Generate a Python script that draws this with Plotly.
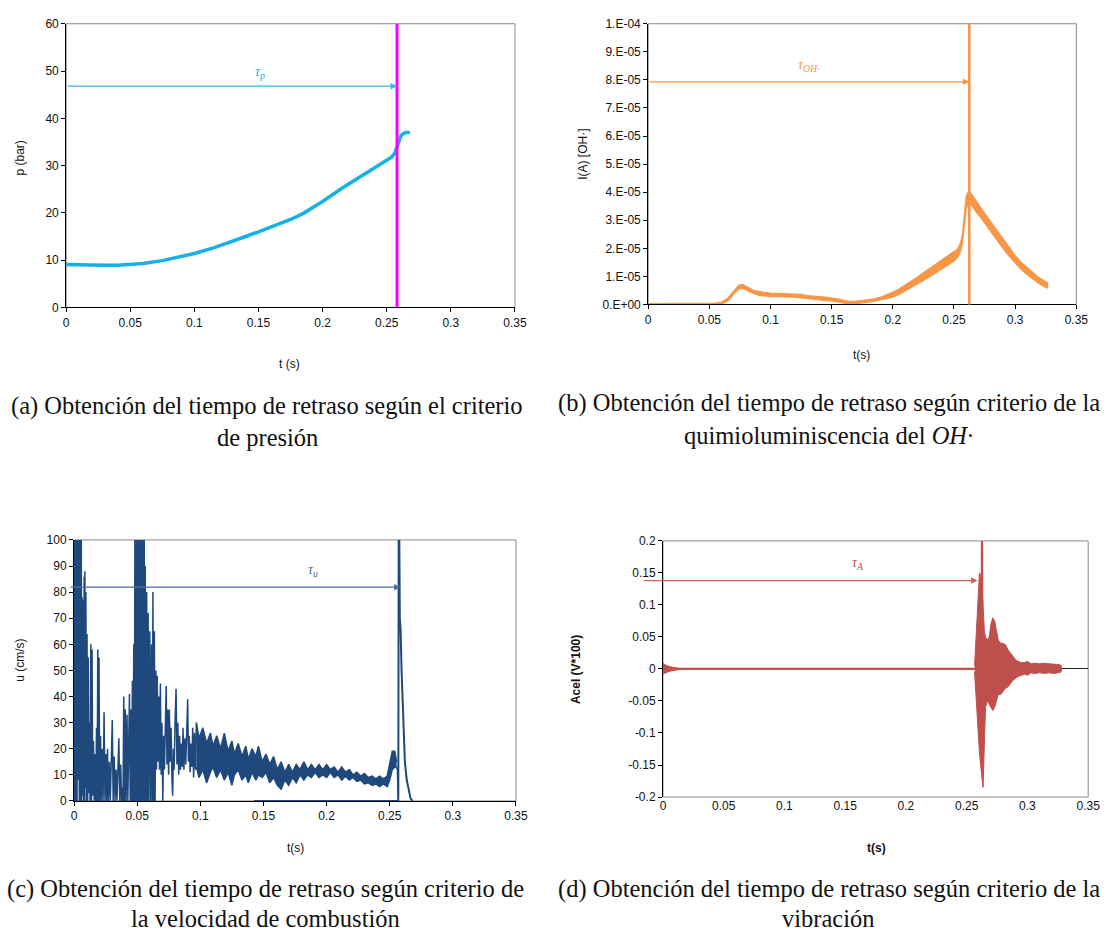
import plotly.graph_objects as go

W, H = 1112, 937

# ---------------- (a) pressure ----------------
t_a = [0, 0.01, 0.02, 0.03, 0.04, 0.05, 0.06, 0.075, 0.09, 0.1,
       0.115, 0.125, 0.14, 0.15, 0.165, 0.175, 0.185, 0.2, 0.215, 0.225,
       0.24, 0.25, 0.254, 0.2565, 0.258, 0.2595, 0.261, 0.263, 0.265, 0.268]
p_a = [9.1, 9.0, 8.9, 8.9, 8.9, 9.1, 9.3, 9.9, 10.7, 11.4,
       12.6, 13.5, 15.0, 16.0, 17.5, 18.6, 19.9, 22.4, 25.2, 26.9,
       29.5, 31.0, 31.8, 32.8, 34.0, 35.5, 36.3, 36.8, 37.0, 37.0]
tau_p = 0.258
arrow_a = 46.8

# ---------------- (b) OH chemiluminescence (band, units 1e-6 A) ----------------
t_b_ms = [0, 50, 55, 60, 65, 68, 71, 74, 77, 80,
          83, 86, 90, 95, 100, 105, 110, 115, 120, 125,
          130, 135, 140, 145, 150, 155, 160, 165, 170, 175,
          180, 185, 190, 195, 200, 205, 210, 215, 220, 225,
          230, 235, 240, 245, 250, 253, 255, 257, 258, 259,
          260, 261.5, 263, 265, 268, 271, 275, 280, 285, 290,
          295, 300, 305, 310, 315, 320, 325, 327]
oh_up = [0.3, 0.3, 0.5, 0.9, 2.2, 3.8, 5.5, 6.8, 7.2, 6.6,
         5.8, 5.0, 4.6, 4.3, 4.1, 4.0, 4.0, 3.9, 3.7, 3.6,
         3.2, 2.9, 2.8, 2.6, 2.4, 2.0, 1.5, 1.1, 1.2, 1.4,
         1.6, 2.0, 2.6, 3.4, 4.4, 5.5, 6.8, 8.2, 9.7, 11.3,
         12.8, 14.3, 16.0, 17.5, 18.8, 19.8, 21.5, 25.0, 30.0, 35.0,
         38.5, 40.0, 40.0, 39.0, 37.0, 35.0, 32.5, 29.5, 26.5, 23.5,
         20.5, 17.5, 15.0, 13.2, 11.2, 9.4, 8.1, 7.8]
oh_lo = [-0.1, -0.1, 0.0, 0.3, 1.2, 2.6, 4.3, 5.4, 5.8, 5.2,
         4.5, 3.9, 3.3, 3.0, 2.8, 2.8, 2.8, 2.7, 2.6, 2.3,
         2.0, 1.8, 1.6, 1.4, 1.3, 0.9, 0.5, 0.1, 0.3, 0.5,
         0.8, 1.2, 1.6, 2.0, 2.6, 3.6, 4.8, 5.9, 7.1, 8.4,
         9.8, 11.2, 12.6, 14.0, 15.5, 16.8, 18.5, 22.0, 26.0, 31.0,
         34.0, 35.5, 36.0, 35.0, 33.0, 31.5, 29.0, 25.8, 22.8, 20.0,
         17.2, 14.8, 12.4, 10.6, 8.8, 7.3, 6.1, 5.8]
tau_oh = 0.2625
arrow_b = 7.93e-5
b_ticks = [0, 1e-5, 2e-5, 3e-5, 4e-5, 5e-5, 6e-5, 7e-5, 8e-5, 9e-5, 1e-4]
b_ticktext = ["0.E+00", "1.E-05", "2.E-05", "3.E-05", "4.E-05", "5.E-05",
              "6.E-05", "7.E-05", "8.E-05", "9.E-05", "1.E-04"]

# ---------------- (c) burning velocity ----------------
t_c_ms = [0.0, 0.3, 0.6, 0.9, 1.2, 1.5, 1.8, 2.1, 2.4, 2.7,
          3.0, 3.3, 3.6, 3.9, 4.2, 4.5, 4.8, 5.1, 5.4, 5.7,
          6.0, 6.4, 6.8, 7.2, 7.6, 8.0, 8.3, 8.6, 9.0, 9.4,
          9.8, 10.3, 10.8, 11.3, 11.8, 12.2, 12.7, 13.3, 13.8, 14.3,
          14.8, 15.4, 16.0, 16.6, 17.2, 17.8, 18.3, 18.8, 19.3, 19.8,
          20.3, 21.0, 21.6, 22.3, 23.0, 23.8, 24.5, 25.2, 25.9, 26.5,
          27.2, 28.0, 28.7, 29.5, 30.3, 31.0, 31.8, 32.5, 33.3, 34.0,
          34.8, 35.5, 36.2, 37.0, 37.6, 38.2, 38.8, 39.4, 40.0, 40.6,
          41.2, 42.0, 42.6, 43.3, 43.9, 44.5, 45.1, 45.7, 46.2, 46.8,
          47.3, 47.8, 48.3, 48.7, 49.1, 49.5, 49.9, 50.3, 50.7, 51.1,
          51.5, 51.9, 52.3, 52.7, 53.1, 53.5, 53.9, 54.3, 54.7, 55.1,
          55.5, 55.9, 56.4, 56.9, 57.5, 58.1, 58.7, 59.3, 60.0, 60.7,
          61.4, 62.0, 62.5, 63.0, 63.6, 64.2, 64.8, 65.3, 65.9, 66.5,
          67.1, 67.7, 68.4, 69.0, 69.6, 70.3, 71.0, 71.6, 72.3, 73.0,
          73.6, 74.2, 74.9, 75.5, 76.2, 76.9, 77.6, 78.1, 78.7, 79.3,
          80.0, 80.8, 81.5, 82.2, 82.9, 83.6, 84.3, 85.0, 85.7, 86.3,
          87.0, 87.8, 88.5, 89.3, 90.0, 90.6, 91.2, 91.9, 92.6, 93.3,
          94.0, 94.7, 95.4, 96.2, 96.9]
u_c = [0, 130, 0, 130, 5, 130, 0, 130, 0, 130,
       8, 130, 0, 130, 0, 130, 3, 130, 0, 120,
       0, 78, 2, 77, 0, 86, 0, 88, 5, 80,
       0, 64, 0, 55, 3, 30, 0, 60, 0, 58,
       2, 23, 0, 18, 0, 28, 0, 58, 0, 55,
       0, 25, 0, 20, 0, 34, 0, 18, 0, 20,
       0, 15, 0, 22, 31, 0, 17, 0, 12, 0,
       20, 24, 0, 14, 0, 5, 0, 40, 0, 35,
       0, 33, 0, 38, 41, 0, 35, 0, 46, 0,
       60, 0, 130, 0, 130, 0, 130, 0, 130, 0,
       130, 0, 130, 0, 130, 0, 130, 0, 130, 0,
       130, 0, 90, 0, 80, 0, 72, 0, 65, 0,
       60, 0, 80, 0, 65, 0, 50, 12, 48, 15,
       40, 12, 45, 10, 30, 0, 25, 12, 38, 44,
       14, 35, 10, 35, 15, 28, 8, 2, 20, 12,
       30, 43, 14, 30, 10, 25, 12, 22, 13, 28,
       12, 24, 14, 30, 39, 15, 25, 11, 22, 13,
       28, 9, 26, 12, 30]
t_cb_ms = [96.9, 99, 102, 105, 108, 110, 113, 116, 119, 122,
           125, 127, 130, 133, 136, 138, 141, 144, 146, 149,
           152, 155, 158, 161, 164, 167, 170, 173, 176, 179,
           182, 185, 188, 191, 194, 197, 200, 203, 206, 209,
           212, 215, 218, 221, 224, 227, 230, 233, 236, 239,
           242, 245, 248, 250, 252, 254, 255.5]
u_cb_up = [30, 24, 28, 22, 26, 21, 25, 20, 26, 19,
           23, 18, 22, 17, 21, 16, 20, 17, 21, 15,
           18, 14, 17, 12, 15, 11, 14, 11, 14, 12,
           15, 12, 14, 12, 14, 12, 14, 12, 13, 11,
           13, 11, 12, 10, 11, 9.5, 10.5, 9, 9.5, 8.5,
           9.5, 8.5, 9.5, 15, 19, 19, 15]
u_cb_lo = [13, 9, 12, 7, 11, 13, 9, 12, 8, 11,
           6, 10, 12, 8, 10, 7, 11, 8, 10, 9,
           11, 7, 9, 6, 4.5, 8, 6, 9, 7, 10,
           8, 10, 9, 11, 9, 10, 9, 11, 9, 10,
           8, 9.5, 8, 9, 7.5, 8, 6.5, 7, 6, 6.5,
           5.5, 6.5, 5.5, 8, 12, 13, 13]
t_cs_ms = [255.5, 256.3, 256.8, 257.2, 258.0, 258.6, 259.4, 260.2, 261.0, 262.0,
           263.5, 265.0, 266.5, 268.0]
u_cs = [13, 12, 0, 130, 70, 66, 50, 40, 28, 15,
        8, 4, 1, 0]
t_c_base_ms = [142.6, 256.8]
u_c_base = [0, 0]
tau_u = 0.2586
arrow_c = 81.9
arrow_c_start = -0.004

# ---------------- (d) vibration ----------------
t_d0_ms = [0, 0.4, 1, 2, 3.5, 5, 7, 10, 13]
a_d0_up = [0.0, 0.009, 0.008, 0.006, 0.005, 0.004, 0.003, 0.002, 0.001]
a_d0_lo = [0.0, -0.008, -0.007, -0.006, -0.005, -0.004, -0.003, -0.002, -0.001]
t_d_base_ms = [0, 256.5]
a_d_base = [0, 0]
t_db_ms = [256.5, 257.5, 258.5, 259.5, 260.5, 261.5, 262.5, 263.5, 264.5, 265.5,
           267, 268.5, 270, 271.5, 273, 274.5, 276, 278, 280, 282,
           284, 286, 288, 290, 292, 295, 298, 300, 303, 306,
           310, 314, 318, 322, 325, 327.5, 328.5]
a_db_up = [0.005, 0.04, 0.09, 0.12, 0.15, 0.145, 0.13, 0.10, 0.06, 0.05,
           0.045, 0.05, 0.07, 0.08, 0.075, 0.06, 0.045, 0.04, 0.04, 0.038,
           0.03, 0.025, 0.02, 0.015, 0.012, 0.01, 0.01, 0.012, 0.008, 0.009,
           0.008, 0.009, 0.008, 0.008, 0.007, 0.006, 0.0]
a_db_lo = [-0.005, -0.04, -0.08, -0.10, -0.13, -0.15, -0.17, -0.185, -0.12, -0.06,
           -0.05, -0.055, -0.06, -0.065, -0.06, -0.05, -0.04, -0.04, -0.035, -0.03,
           -0.028, -0.022, -0.018, -0.015, -0.012, -0.01, -0.008, -0.01, -0.006, -0.007,
           -0.006, -0.007, -0.006, -0.007, -0.006, -0.005, 0.0]
t_ds_ms = [262.3, 262.6, 262.9]
a_ds = [0.1, 0.25, 0.1]
tau_a = 0.259
arrow_d = 0.138
arrow_d_start = -0.017
d_ticks = [0.2, 0.15, 0.1, 0.05, 0, -0.05, -0.1, -0.15, -0.2]
d_ticktext = ["0.2", "0.15", "0.1", "0.05", "0", "-0.05", "-0.1", "-0.15", "-0.2"]

x_ticks = [0, 0.05, 0.1, 0.15, 0.2, 0.25, 0.3, 0.35]
x_ticktext = ["0", "0.05", "0.1", "0.15", "0.2", "0.25", "0.3", "0.35"]

# ---------------- colours ----------------
C_A = "#16b0e8"
C_MAG = "#ff00ff"
C_B = "#f79646"
C_C = "#1f497d"
C_D = "#c0504d"

def ms(v):
    return [x / 1000.0 for x in v]

fig = go.Figure()

# (a)
fig.add_trace(go.Scatter(x=t_a, y=p_a, mode="lines", line=dict(color=C_A, width=3.5),
                         xaxis="x", yaxis="y", showlegend=False))
# (b)
fig.add_trace(go.Scatter(x=ms(t_b_ms), y=[v * 1e-6 for v in oh_lo], mode="lines",
                         line=dict(color=C_B, width=1.2), xaxis="x2", yaxis="y2", showlegend=False))
fig.add_trace(go.Scatter(x=ms(t_b_ms), y=[v * 1e-6 for v in oh_up], mode="lines",
                         line=dict(color=C_B, width=1.2), fill="tonexty", fillcolor=C_B,
                         xaxis="x2", yaxis="y2", showlegend=False))
# (c)
fig.add_trace(go.Scatter(x=ms(t_c_ms), y=u_c, mode="lines", line=dict(color=C_C, width=1.5),
                         xaxis="x3", yaxis="y3", showlegend=False))
fig.add_trace(go.Scatter(x=ms(t_cb_ms), y=u_cb_lo, mode="lines", line=dict(color=C_C, width=1.5),
                         xaxis="x3", yaxis="y3", showlegend=False))
fig.add_trace(go.Scatter(x=ms(t_cb_ms), y=u_cb_up, mode="lines", line=dict(color=C_C, width=1.5),
                         fill="tonexty", fillcolor=C_C, xaxis="x3", yaxis="y3", showlegend=False))
fig.add_trace(go.Scatter(x=ms(t_cs_ms), y=u_cs, mode="lines", line=dict(color=C_C, width=2),
                         xaxis="x3", yaxis="y3", showlegend=False))
fig.add_trace(go.Scatter(x=ms(t_c_base_ms), y=u_c_base, mode="lines", line=dict(color=C_C, width=2),
                         xaxis="x3", yaxis="y3", showlegend=False))
# (d)
fig.add_trace(go.Scatter(x=ms(t_d_base_ms), y=a_d_base, mode="lines", line=dict(color=C_D, width=2.2),
                         xaxis="x4", yaxis="y4", showlegend=False))
fig.add_trace(go.Scatter(x=ms(t_d0_ms), y=a_d0_lo, mode="lines", line=dict(color=C_D, width=1),
                         xaxis="x4", yaxis="y4", showlegend=False))
fig.add_trace(go.Scatter(x=ms(t_d0_ms), y=a_d0_up, mode="lines", line=dict(color=C_D, width=1),
                         fill="tonexty", fillcolor=C_D, xaxis="x4", yaxis="y4", showlegend=False))
fig.add_trace(go.Scatter(x=ms(t_db_ms), y=a_db_lo, mode="lines", line=dict(color=C_D, width=1),
                         xaxis="x4", yaxis="y4", showlegend=False))
fig.add_trace(go.Scatter(x=ms(t_db_ms), y=a_db_up, mode="lines", line=dict(color=C_D, width=1),
                         fill="tonexty", fillcolor=C_D, xaxis="x4", yaxis="y4", showlegend=False))
fig.add_trace(go.Scatter(x=ms(t_ds_ms), y=a_ds, mode="lines", line=dict(color=C_D, width=2),
                         xaxis="x4", yaxis="y4", showlegend=False))

# ---------------- axes ----------------
SANS = "Liberation Sans, Arial, sans-serif"
SERIF = "Liberation Serif, Times New Roman, serif"
tickfont = dict(family=SANS, size=12, color="#111")

def px_dom_x(a, b):
    return [a / W, b / W]

def px_dom_y(top, bottom):
    return [1 - bottom / H, 1 - top / H]

def xax(dom, anchor, showline=True):
    return dict(domain=dom, anchor=anchor, range=[0, 0.35], tickvals=x_ticks, ticktext=x_ticktext,
                showgrid=False, zeroline=False, showline=showline, linecolor="black", linewidth=1,
                ticks="outside" if showline else "", ticklen=4, tickcolor="black", tickfont=tickfont)

def yax(dom, anchor, rng, **kw):
    d = dict(domain=dom, anchor=anchor, range=rng, showgrid=False, zeroline=False, showline=True,
             linecolor="black", linewidth=1, ticks="outside", ticklen=4, tickcolor="black",
             tickfont=tickfont)
    d.update(kw)
    return d

dom_a = (px_dom_x(64, 519), px_dom_y(17, 305))
dom_b = (px_dom_x(654, 1088), px_dom_y(17, 302))
dom_c = (px_dom_x(72, 520), px_dom_y(541, 806))
dom_d = (px_dom_x(669, 1100), px_dom_y(542, 802))

fig.update_layout(
    xaxis=xax(dom_a[0], "y"),
    yaxis=yax(dom_a[1], "x", [0, 60], tickvals=[0, 10, 20, 30, 40, 50, 60]),
    xaxis2=xax(dom_b[0], "y2"),
    yaxis2=yax(dom_b[1], "x2", [0, 1e-4], tickvals=b_ticks, ticktext=b_ticktext),
    xaxis3=xax(dom_c[0], "y3"),
    yaxis3=yax(dom_c[1], "x3", [0, 100], tickvals=[0, 10, 20, 30, 40, 50, 60, 70, 80, 90, 100]),
    xaxis4=xax(dom_d[0], "y4", showline=False),
    yaxis4=yax(dom_d[1], "x4", [-0.2, 0.2], tickvals=d_ticks, ticktext=d_ticktext,
               zeroline=True, zerolinecolor="#222", zerolinewidth=1),
)

# frames (gray plot-area borders)
shapes = []
for xr, yr in [("x", "y"), ("x2", "y2"), ("x3", "y3"), ("x4", "y4")]:
    shapes.append(dict(type="rect", xref=xr + " domain", yref=yr + " domain", x0=0, x1=1, y0=0, y1=1,
                       line=dict(color="#8a8a8a", width=1), layer="below"))
# delay-time vertical markers
shapes.append(dict(type="line", xref="x", yref="y domain", x0=tau_p, x1=tau_p, y0=0, y1=1,
                   line=dict(color=C_MAG, width=3)))
shapes.append(dict(type="line", xref="x2", yref="y2 domain", x0=tau_oh, x1=tau_oh, y0=0, y1=1,
                   line=dict(color=C_B, width=2.5)))
fig.update_layout(shapes=shapes)

ann = []
# arrows
def arrow(xr, yr, x0, x1, y, color):
    return dict(xref=xr, yref=yr, axref=xr, ayref=yr, x=x1, y=y, ax=x0, ay=y, text="",
                showarrow=True, arrowhead=2, arrowsize=1, arrowwidth=1.3, arrowcolor=color, standoff=0)

ann.append(arrow("x", "y", 0, tau_p, arrow_a, "#3ab4e6"))
ann.append(arrow("x2", "y2", 0, tau_oh, arrow_b, C_B))
ann.append(arrow("x3", "y3", arrow_c_start, tau_u, arrow_c, "#4a6e9a"))
ann.append(arrow("x4", "y4", arrow_d_start, tau_a, arrow_d, "#d0625f"))

def ptxt(x, y, text, size, family=SANS, color="#111", angle=0):
    return dict(xref="paper", yref="paper", x=x / W, y=1 - y / H, text=text, showarrow=False,
                xanchor="center", yanchor="middle", textangle=angle,
                font=dict(family=family, size=size, color=color))

# tau labels
ann.append(ptxt(261, 66, "<i>τ<sub>p</sub></i>", 14, SERIF, C_A))
ann.append(ptxt(817, 59, "<i>τ<sub>OH·</sub></i>", 14, SERIF, C_B))
ann.append(ptxt(314, 572, "<i>τ<sub>u</sub></i>", 14, SERIF, "#4a6e9a"))
ann.append(ptxt(867, 565, "<i>τ<sub>A</sub></i>", 14, SERIF, C_D))

# axis titles
ann.append(ptxt(290, 362, "t (s)", 12))
ann.append(ptxt(17, 153, "p (bar)", 12, angle=-90))
ann.append(ptxt(870, 353, "t(s)", 12))
ann.append(ptxt(588, 150, "I(A) [OH·]", 12, angle=-90))
ann.append(ptxt(296, 854, "t(s)", 12))
ann.append(ptxt(17, 663, "u (cm/s)", 12, angle=-90))
ann.append(ptxt(885, 854, "<b>t(s)</b>", 12))
ann.append(ptxt(581, 673, "<b>Acel (V*100)</b>", 12, angle=-90))

# captions
CAP = 24.5
ann.append(ptxt(268, 405, "(a) Obtención del tiempo de retraso según el criterio", CAP, SERIF, "#111"))
ann.append(ptxt(268, 437, "de presión", CAP, SERIF, "#111"))
ann.append(ptxt(837, 402, "(b) Obtención del tiempo de retraso según criterio de la", CAP, SERIF, "#111"))
ann.append(ptxt(837, 435, "quimioluminiscencia del <i>OH·</i>", CAP, SERIF, "#111"))
ann.append(ptxt(266, 895, "(c) Obtención del tiempo de retraso según criterio de", CAP, SERIF, "#111"))
ann.append(ptxt(266, 925, "la velocidad de combustión", CAP, SERIF, "#111"))
ann.append(ptxt(837, 895, "(d) Obtención del tiempo de retraso según criterio de la", CAP, SERIF, "#111"))
ann.append(ptxt(837, 925, "vibración", CAP, SERIF, "#111"))

fig.update_layout(annotations=ann, width=W, height=H, autosize=False,
                  margin=dict(l=0, r=0, t=0, b=0), paper_bgcolor="white", plot_bgcolor="white",
                  showlegend=False)

fig.write_html("out.html")
